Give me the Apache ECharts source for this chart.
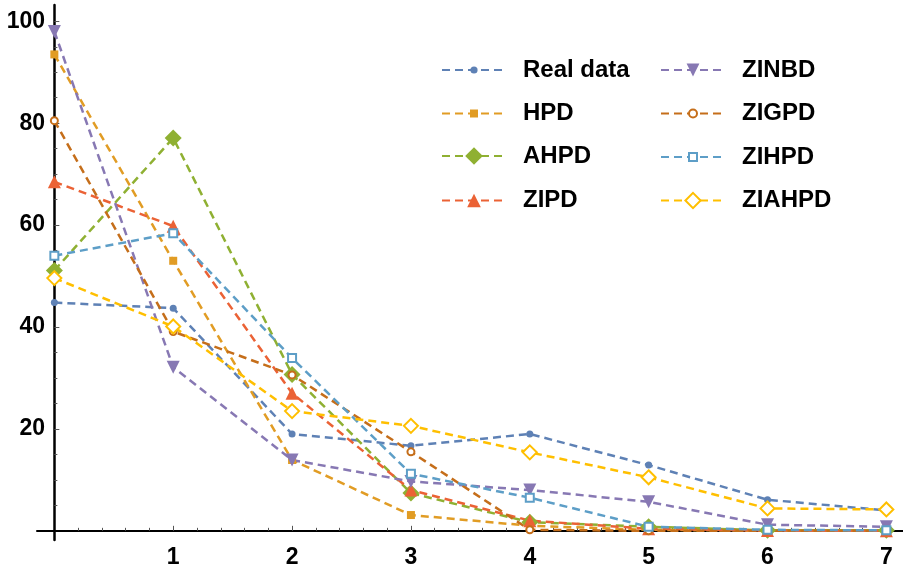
<!DOCTYPE html>
<html>
<head>
<meta charset="utf-8">
<title>Model fits vs. real data</title>
<script src="https://cdn.jsdelivr.net/npm/echarts@6/dist/echarts.min.js"></script>
<style>
  html, body { margin: 0; padding: 0; background: #fff; }
  #chart { width: 903px; height: 566px; }
</style>
</head>
<body>
<div id="chart"></div>
<script>
// Observed counts and fitted frequencies for k = 0..7
const xs = [0, 1, 2, 3, 4, 5, 6, 7];
const realData = [44.8, 43.7, 19.0, 16.7, 19.0, 12.9, 6.1, 4.0];
const hpd      = [93.5, 53.0, 13.9, 3.1, 1.0, 0.2, 0.0, 0.0];
const ahpd     = [51.1, 77.1, 30.7, 7.4, 1.7, 0.8, 0.1, 0.1];
const zipd     = [68.5, 59.8, 27.0, 8.0, 2.0, 0.4, 0.05, 0.0];
const zinbd    = [98.0, 32.1, 13.9, 9.7, 8.0, 5.7, 1.2, 0.8];
const zigpd    = [80.5, 39.1, 30.6, 15.5, 0.2, 0.0, 0.0, 0.0];
const zihpd    = [54.0, 58.4, 33.9, 11.2, 6.5, 0.8, 0.2, 0.1];
const ziahpd   = [49.6, 40.1, 23.5, 20.6, 15.4, 10.5, 4.4, 4.2];

const xTickLabels = [1, 2, 3, 4, 5, 6, 7];
const yTickLabels = [20, 40, 60, 80, 100];

const FONT = '"Liberation Sans", Arial, Helvetica, sans-serif';

// Minor tick positions (every 0.2 on x, every 5 on y), majors skipped
const xMinor = [];
for (let i = 1; i <= 35; i++) { if (i % 5 !== 0) xMinor.push(+(i * 0.2).toFixed(1)); }
const yMinor = [];
for (let v = 5; v <= 100; v += 5) { if (v % 20 !== 0) yMinor.push(v); }

const seriesDefs = [
  { name: 'Real data', data: realData, color: '#5E81B5', symbol: 'circle',        size: 7,  legendH: 9,  col: 0, row: 0 },
  { name: 'HPD',       data: hpd,      color: '#E19C24', symbol: 'rect',          size: 8,  legendH: 10, col: 0, row: 1 },
  { name: 'AHPD',      data: ahpd,     color: '#8FB032', symbol: 'diamond',       size: 17, legendH: 22, col: 0, row: 2 },
  { name: 'ZIPD',      data: zipd,     color: '#EB6235', symbol: 'triangle',      size: 13, legendH: 17, col: 0, row: 3 },
  { name: 'ZINBD',     data: zinbd,    color: '#8778B3', symbol: 'triangle',      size: 13, legendH: 16, col: 1, row: 0, rotate: 180 },
  { name: 'ZIGPD',     data: zigpd,    color: '#C56E1A', symbol: 'emptyCircle',   size: 7,  legendH: 10, col: 1, row: 1 },
  { name: 'ZIHPD',     data: zihpd,    color: '#5D9EC7', symbol: 'emptyRect',     size: 8,  legendH: 10, col: 1, row: 2 },
  { name: 'ZIAHPD',    data: ziahpd,   color: '#FFBF00', symbol: 'emptyDiamond',  size: 14, legendH: 19, col: 1, row: 3 }
];

const legendLeft = [441, 660];
const legendRowY = [68, 111.5, 155, 198.5];

const series = seriesDefs.map(d => ({
  name: d.name,
  type: 'line',
  xAxisIndex: 0,
  yAxisIndex: 0,
  data: xs.map((x, i) => [x, d.data[i]]),
  symbol: d.symbol,
  symbolSize: d.size,
  symbolRotate: d.rotate || 0,
  showAllSymbol: true,
  clip: false,
  color: d.color,
  lineStyle: { color: d.color, width: 2.5, type: [8, 5] },
  itemStyle: { color: d.color, borderColor: d.color, borderWidth: d.symbol.indexOf('empty') === 0 ? 1.2 : 0 },
  emphasis: { disabled: true },
  animation: false
}));

const legends = seriesDefs.map(d => ({
  data: [d.name],
  left: legendLeft[d.col],
  top: legendRowY[d.row] - Math.max(d.legendH, 20) / 2,
  itemWidth: 64,
  itemHeight: d.legendH,
  padding: 0,
  textStyle: {
    fontFamily: FONT, fontWeight: 'bold', fontSize: 24, color: '#000',
    padding: [0, 0, 0, 12]
  }
}));

const axisCommon = {
  type: 'value',
  splitLine: { show: false },
  axisLine: { onZero: true, lineStyle: { color: '#000', width: 2 } }
};

// Tick labels are laid out from the grid edge, so margins are measured from there
const option = {
  backgroundColor: '#fff',
  animation: false,
  grid: { left: 37, right: 0, top: 5, bottom: 26, containLabel: false, outerBoundsMode: 'none' },
  legend: legends,
  xAxis: [
    Object.assign({}, axisCommon, {
      position: 'bottom',
      min: -0.146, max: 7.14,
      axisLine: { onZero: true, onZeroAxisIndex: 0, lineStyle: { color: '#000', width: 2 } },
      axisTick: { show: true, inside: true, length: 5, customValues: xTickLabels, lineStyle: { color: '#555', width: 1 } },
      axisLabel: { customValues: xTickLabels, margin: 6, fontFamily: FONT, fontWeight: 'bold', fontSize: 23, color: '#000' }
    }),
    // minor ticks
    Object.assign({}, axisCommon, {
      position: 'bottom',
      min: -0.146, max: 7.14,
      axisLine: { show: false, onZero: true, onZeroAxisIndex: 1 },
      axisTick: { show: true, inside: true, length: 3, customValues: xMinor, lineStyle: { color: '#555', width: 1 } },
      axisLabel: { show: false }
    })
  ],
  yAxis: [
    Object.assign({}, axisCommon, {
      position: 'left',
      min: -1.8, max: 103.2,
      axisLine: { onZero: true, onZeroAxisIndex: 0, lineStyle: { color: '#000', width: 2.5 } },
      axisTick: { show: true, inside: true, length: 5, customValues: yTickLabels, lineStyle: { color: '#555', width: 1 } },
      axisLabel: { customValues: yTickLabels, margin: -8, fontFamily: FONT, fontWeight: 'bold', fontSize: 23, color: '#000' }
    }),
    // minor ticks
    Object.assign({}, axisCommon, {
      position: 'left',
      min: -1.8, max: 103.2,
      axisLine: { show: false, onZero: true, onZeroAxisIndex: 1 },
      axisTick: { show: true, inside: true, length: 3, customValues: yMinor, lineStyle: { color: '#555', width: 1 } },
      axisLabel: { show: false }
    })
  ],
  series: series
};

const chart = echarts.init(document.getElementById('chart'), null, { renderer: 'canvas' });
chart.setOption(option);
</script>
</body>
</html>
